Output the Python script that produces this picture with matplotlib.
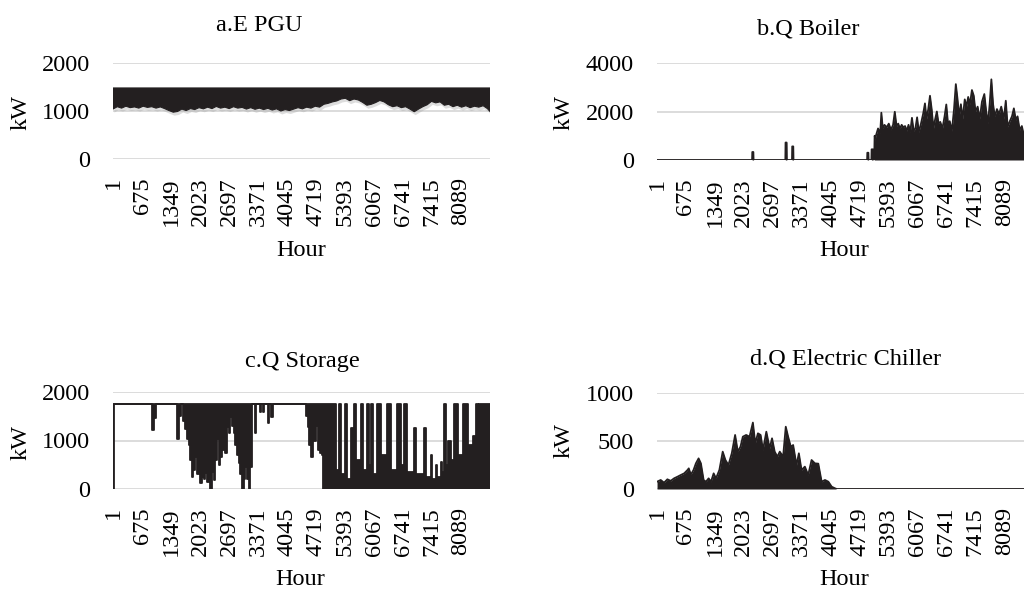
import matplotlib
matplotlib.use("Agg")
import matplotlib.pyplot as plt
from matplotlib import patheffects as pe

plt.rcParams['font.family'] = ['Liberation Serif', 'DejaVu Serif']
plt.rcParams['font.size'] = 17.5

# category labels on the hour axis
hour_ticks = [1, 675, 1349, 2023, 2697, 3371, 4045, 4719, 5393, 6067, 6741, 7415, 8089]

# a. PGU electric output: band between daily low and the rated top
pgu_top = 1480
pgu_hours = [0, 100, 200, 300, 400, 500, 600, 700, 800, 900, 1000, 1100, 1200, 1300, 1400,
             1500, 1600, 1700, 1800, 1900, 2000, 2100, 2200, 2300, 2400, 2500, 2600, 2700,
             2800, 2900, 3000, 3100, 3200, 3300, 3400, 3500, 3600, 3700, 3800, 3900, 4000,
             4100, 4200, 4300, 4400, 4500, 4600, 4700, 4800, 4900, 5000, 5100, 5200, 5300,
             5400, 5500, 5600, 5700, 5800, 5900, 6000, 6100, 6200, 6300, 6400, 6500, 6600,
             6700, 6800, 6900, 7000, 7100, 7200, 7300, 7400, 7500, 7600, 7700, 7800, 7900,
             8000, 8100, 8200, 8300, 8400, 8500, 8600, 8700, 8760]
pgu_low = [1040, 1090, 1060, 1100, 1070, 1085, 1060, 1100, 1075, 1090, 1060, 1085, 1050,
           1010, 975, 990, 1040, 1010, 1050, 1030, 1070, 1045, 1080, 1050, 1095, 1060, 1080,
           1050, 1090, 1060, 1075, 1040, 1070, 1035, 1060, 1030, 1055, 1020, 1045, 1000,
           1030, 1010, 1040, 1070, 1045, 1080, 1060, 1100, 1080, 1140, 1160, 1190, 1210,
           1250, 1265, 1215, 1250, 1230, 1180, 1120, 1140, 1175, 1220, 1190, 1130, 1090,
           1110, 1070, 1090, 1040, 985, 1040, 1090, 1130, 1200, 1170, 1190, 1120, 1140,
           1090, 1120, 1080, 1110, 1070, 1100, 1080, 1110, 1050, 990]

# b. boiler heat output (daily peaks)
boiler_hours = [1, 2215, 2220, 2245, 2250, 2990, 2995, 3020, 3025, 3145, 3150, 3175, 3180,
                4895, 4900, 4925, 4930, 4995, 5000, 5030, 5035, 5060, 5070, 5090,
                5100, 5150, 5200, 5227, 5260, 5300, 5350, 5400, 5450, 5500, 5540, 5580,
                5620, 5660, 5700, 5740, 5780, 5820, 5860, 5900, 5940, 5980, 6020, 6060,
                6100, 6150, 6200, 6243, 6280, 6320, 6360, 6400, 6440, 6480, 6520, 6560,
                6600, 6650, 6700, 6740, 6780, 6820, 6870, 6920, 6962, 7000, 7040, 7080,
                7120, 7170, 7210, 7250, 7290, 7337, 7380, 7420, 7470, 7520, 7570, 7626,
                7670, 7710, 7750, 7790, 7830, 7870, 7920, 7970, 8020, 8080, 8126, 8170,
                8220, 8270, 8314, 8360, 8400, 8450, 8500, 8550, 8600, 8650, 8700, 8760]
boiler_vals = [0, 0, 330, 330, 0, 0, 720, 720, 0, 0, 560, 560, 0,
               0, 300, 300, 0, 0, 440, 440, 0, 0, 1000, 900,
               1000, 1300, 1100, 1950, 1300, 1450, 1350, 1500, 1250, 1450, 1990, 1400,
               1500, 1300, 1450, 1350, 1400, 1200, 1450, 1150, 1740, 1200, 1300, 1760,
               1150, 1500, 1900, 2335, 1700, 2100, 2650, 2090, 1300, 1680, 2000, 1500,
               1570, 1300, 1800, 2290, 1500, 1600, 1200, 2100, 3130, 2540, 1800, 2300,
               1700, 2500, 2200, 2600, 2300, 2885, 2650, 2000, 2200, 1700, 2400, 2720,
               2000, 1500, 2300, 3325, 2300, 1800, 2100, 1900, 2200, 1700, 2445, 1370,
               1600, 1800, 2130, 1650, 1800, 1240, 1400, 1000, 900, 1100, 700, 900]

# c. thermal storage: daily low / high of the stored heat
storage_hours = [0, 25, 900, 950, 1000, 1480, 1530, 1580, 1620, 1680, 1720, 1760, 1800,
                 1833, 1870, 1911, 1950, 1990, 2027, 2070, 2110, 2144, 2190, 2245, 2290,
                 2338, 2380, 2416, 2455, 2493, 2530, 2571, 2610, 2649, 2690, 2726, 2770,
                 2810, 2843, 2880, 2920, 2960, 2998, 3040, 3076, 3115, 3153, 3190, 3230,
                 3290, 3320, 3410, 3440, 3490, 3520, 3600, 3630, 3680, 3710, 4480, 4520,
                 4560, 4600, 4640, 4680, 4720, 4760, 4800, 4850, 4886, 5173, 5251, 5290,
                 5391, 5445, 5523, 5569, 5600, 5647, 5760, 5800, 5896, 5958, 5989, 6051,
                 6129, 6222, 6377, 6455, 6595, 6688, 6766, 6828, 6999, 7038, 7232, 7271,
                 7387, 7420, 7504, 7530, 7621, 7650, 7698, 7745, 7776, 7854, 7931, 8009,
                 8126, 8242, 8359, 8436, 8491, 8514, 8760]
storage_lo = [0, 1750, 1215, 1456, 1750, 1030, 1500, 1750, 1400, 1245, 1040, 900, 600,
              254, 400, 666, 300, 390, 117, 250, 200, 323, 150, 0, 350,
              185, 600, 1040, 500, 666, 800, 1009, 750, 1283, 1150, 1489, 1300,
              1146, 900, 700, 529, 300, 0, 200, 460, 200, 0, 460, 1750,
              1146, 1750, 1592, 1750, 1592, 1750, 1352, 1750, 1489, 1750, 1500, 1283,
              900, 666, 1146, 1000, 1300, 800, 735, 700, 0, 0, 0, 0,
              0, 0, 0, 0, 0, 0, 0, 0, 0, 0, 0, 0,
              0, 0, 0, 0, 0, 0, 0, 0, 0, 0, 0, 0,
              0, 0, 0, 0, 0, 0, 0, 0, 0, 0, 0, 0,
              0, 0, 0, 0, 300, 0, 0]
storage_hi = [1750, 1750, 1750, 1750, 1750, 1750, 1750, 1750, 1750, 1750, 1750, 1750, 1750,
              1750, 1750, 1750, 1750, 1750, 1750, 1750, 1750, 1750, 1750, 1750, 1750,
              1750, 1750, 1750, 1750, 1750, 1750, 1750, 1750, 1750, 1750, 1750, 1750,
              1750, 1750, 1750, 1750, 1750, 1750, 1750, 1750, 1750, 1750, 1750, 1750,
              1750, 1750, 1750, 1750, 1750, 1750, 1750, 1750, 1750, 1750, 1750, 1750,
              1750, 1750, 1750, 1750, 1750, 1750, 1750, 1750, 1750, 400, 1750, 300,
              1750, 200, 1250, 300, 1750, 600, 1750, 400, 1750, 500, 1750, 300,
              1750, 700, 1750, 400, 1750, 500, 1750, 350, 1250, 300, 1250, 250,
              700, 200, 500, 250, 550, 350, 1750, 500, 1000, 600, 1750, 700,
              1750, 900, 1100, 1750, 1300, 1750, 1750]

# d. electric chiller cooling output (daily peaks)
chiller_hours = [1, 86, 164, 242, 320, 398, 477, 555, 633, 711, 740, 789, 851, 906, 969,
                 1023, 1086, 1140, 1203, 1258, 1320, 1375, 1453, 1531, 1594, 1664, 1742,
                 1820, 1883, 1945, 2000, 2078, 2156, 2234, 2289, 2351, 2414, 2469, 2547,
                 2625, 2680, 2742, 2805, 2860, 2938, 3000, 3055, 3117, 3172, 3250, 3305,
                 3367, 3445, 3523, 3601, 3680, 3758, 3836, 3914, 3992, 4070, 4148, 4188,
                 8760]
chiller_vals = [76, 94, 66, 101, 85, 111, 128, 146, 163, 198, 215, 150, 198, 267, 319,
                267, 94, 76, 111, 76, 163, 111, 198, 389, 302, 250, 372,
                563, 389, 441, 545, 563, 545, 692, 476, 580, 563, 407, 597,
                424, 528, 389, 337, 389, 337, 649, 545, 441, 458, 250, 372,
                198, 233, 146, 302, 267, 264, 76, 94, 76, 24, 7, 0,
                0]

ink = '#231f20'
grid_col = '#d9d9d9'
W, H = 1024, 591

fig = plt.figure(figsize=(10.24, 5.91), dpi=100)


def px_axes(x0, x1, ytop, ybot):
    return fig.add_axes([x0 / W, 1 - ybot / H, (x1 - x0) / W, (ybot - ytop) / H])


def style(ax, ymax, ystep):
    ax.set_xlim(0, 8760)
    ax.set_ylim(0, ymax)
    ax.set_yticks(list(range(0, ymax + 1, ystep)))
    ax.set_xticks(hour_ticks)
    ax.set_xticklabels([str(t) for t in hour_ticks], rotation=90)
    ax.tick_params(length=0, labelsize=17.5, colors='black')
    ax.tick_params(axis='x', pad=13)
    ax.tick_params(axis='y', pad=16.5)
    for s in ax.spines.values():
        s.set_visible(False)
    ax.grid(axis='y', color=grid_col, lw=1.3)
    ax.grid(axis='x', visible=False)
    ax.set_axisbelow(True)
    ax.patch.set_alpha(0)


def label(x, y, text, **kw):
    fig.text(x / W, 1 - y / H, text, fontsize=17.5, **kw)


# soft grey drop shadow under the PGU band
shadow = [pe.SimplePatchShadow(offset=(1, -2.5), shadow_rgbFace='#a0a0a0', alpha=0.35), pe.Normal()]

# a. E PGU
ax_a = px_axes(113, 490, 63, 159)
style(ax_a, 2000, 1000)
band = ax_a.fill_between(pgu_hours, pgu_low, pgu_top, color=ink, lw=0.8, edgecolor=ink)
band.set_path_effects(shadow)

# b. Q Boiler
ax_b = px_axes(657, 1033, 63, 160)
style(ax_b, 4000, 2000)
ax_b.fill_between(boiler_hours, 0, boiler_vals, color=ink, lw=0)
ax_b.plot(boiler_hours, boiler_vals, color=ink, lw=1.3)

# c. Q Storage
ax_c = px_axes(113, 490, 392, 489)
style(ax_c, 2000, 1000)
ax_c.fill_between(storage_hours, storage_lo, storage_hi, step='post', color=ink, lw=0)
ax_c.step(storage_hours, storage_hi, where='post', color=ink, lw=1.3)
ax_c.step(storage_hours, storage_lo, where='post', color=ink, lw=1.3)

# d. Q Electric Chiller
ax_d = px_axes(657, 1033, 393, 489)
style(ax_d, 1000, 500)
ax_d.fill_between(chiller_hours, 0, chiller_vals, color=ink, lw=0)
ax_d.plot(chiller_hours, chiller_vals, color=ink, lw=1.3)

# titles and axis names
label(259, 31, 'a.E PGU', ha='center', va='baseline')
label(808, 34, 'b.Q Boiler', ha='center', va='baseline')
label(302, 367, 'c.Q Storage', ha='center', va='baseline')
label(845, 365, 'd.Q Electric Chiller', ha='center', va='baseline')
for cx, by in [(301, 256), (844, 256), (300, 585), (844, 585)]:
    label(cx, by, 'Hour', ha='center', va='baseline')
for cx, cy in [(21, 113), (564, 112), (21, 443), (564, 441)]:
    label(cx, cy, 'kW', ha='center', va='center', rotation=90)

fig.savefig('out.png', dpi=100)
